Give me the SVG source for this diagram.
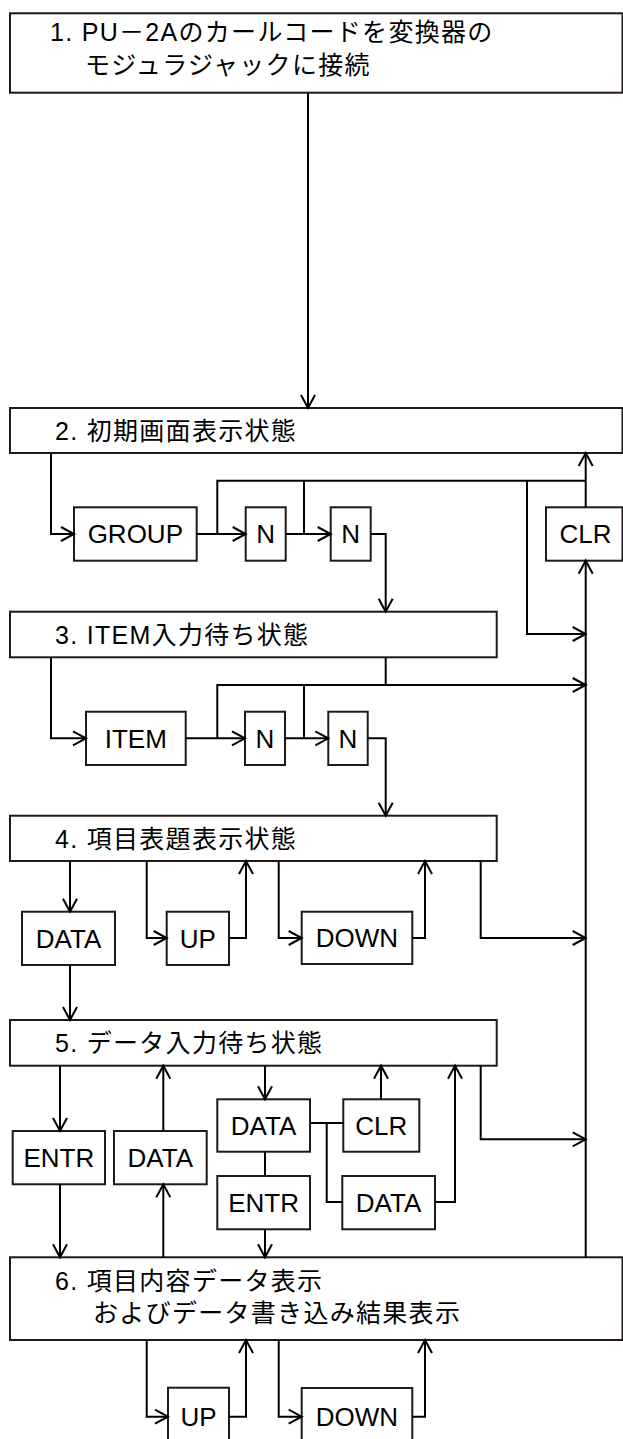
<svg xmlns="http://www.w3.org/2000/svg" width="623" height="1439" viewBox="0 0 623 1439">
<style>
.box{fill:#fff;stroke:#231815;stroke-width:2}
.conn{fill:none;stroke:#000;stroke-width:2}
.lbl{font-family:"Liberation Sans","Noto Sans CJK JP",sans-serif;font-size:26px;text-anchor:middle;fill:#000}
.st{font-family:"Liberation Sans","Noto Sans CJK JP",sans-serif;font-size:25px;letter-spacing:1.3px;fill:#000}
</style>
<defs>
<marker id="ah" markerUnits="userSpaceOnUse" markerWidth="20" markerHeight="20" viewBox="-15 -10 20 20" refX="0" refY="0" orient="auto" overflow="visible">
<path d="M-13,-7 L0,0 L-13,7" fill="none" stroke="#000" stroke-width="2"/>
</marker>
</defs>
<rect width="623" height="1439" fill="#fff"/>

<g id="state1"><rect class="box" x="10" y="13.3" width="612.5" height="79.4"/>
<text class="st" x="50" y="41">1. PU－2Aのカールコードを変換器の</text>
<text class="st" x="85" y="74">モジュラジャックに接続</text></g>

<g id="state2"><rect class="box" x="10" y="408" width="612.5" height="45"/>
<text class="st" x="55" y="440">2. 初期画面表示状態</text></g>

<g id="group"><rect class="box" x="74" y="507.3" width="122.7" height="53.4"/><text class="lbl" x="135.3" y="543.3">GROUP</text></g>
<g id="n1a"><rect class="box" x="245.7" y="507.3" width="40" height="53.4"/><text class="lbl" x="265.7" y="543.3">N</text></g>
<g id="n2a"><rect class="box" x="330.7" y="507.3" width="40" height="53.4"/><text class="lbl" x="350.7" y="543.3">N</text></g>
<g id="clr1"><rect class="box" x="546" y="507.3" width="76.5" height="53.4"/><text class="lbl" x="585.5" y="543.3">CLR</text></g>

<g id="state3"><rect class="box" x="10" y="611.7" width="486.7" height="45.6"/>
<text class="st" x="55" y="644">3. ITEM入力待ち状態</text></g>

<g id="item"><rect class="box" x="86" y="711.7" width="99.7" height="53.3"/><text class="lbl" x="135.8" y="747.6">ITEM</text></g>
<g id="n1b"><rect class="box" x="245" y="711.7" width="40" height="53.3"/><text class="lbl" x="265" y="747.6">N</text></g>
<g id="n2b"><rect class="box" x="328.3" y="711.7" width="39.4" height="53.3"/><text class="lbl" x="348" y="747.6">N</text></g>

<g id="state4"><rect class="box" x="10" y="815.7" width="486.7" height="45.3"/>
<text class="st" x="55" y="848">4. 項目表題表示状態</text></g>

<g id="data1"><rect class="box" x="22" y="911.7" width="93" height="53.3"/><text class="lbl" x="68.5" y="947.6">DATA</text></g>
<g id="up1"><rect class="box" x="166.7" y="911.7" width="62.3" height="53.3"/><text class="lbl" x="197.8" y="947.6">UP</text></g>
<g id="down1"><rect class="box" x="301.7" y="911.7" width="110.6" height="52.3"/><text class="lbl" x="357" y="947.2">DOWN</text></g>

<g id="state5"><rect class="box" x="10" y="1020" width="486.7" height="45.7"/>
<text class="st" x="55" y="1052">5. データ入力待ち状態</text></g>

<g id="entr1"><rect class="box" x="12.7" y="1131" width="92.3" height="53.3"/><text class="lbl" x="58.8" y="1167">ENTR</text></g>
<g id="data2"><rect class="box" x="114" y="1131" width="92.7" height="53.3"/><text class="lbl" x="160.3" y="1167">DATA</text></g>
<g id="data3"><rect class="box" x="217.3" y="1099.3" width="92.7" height="52.4"/><text class="lbl" x="263.6" y="1134.8">DATA</text></g>
<g id="clr2"><rect class="box" x="343.3" y="1099.3" width="76" height="52.4"/><text class="lbl" x="381.3" y="1134.8">CLR</text></g>
<g id="entr2"><rect class="box" x="217.3" y="1176" width="92.7" height="53.3"/><text class="lbl" x="263.6" y="1212">ENTR</text></g>
<g id="data4"><rect class="box" x="342.3" y="1176" width="92.7" height="53.3"/><text class="lbl" x="388.6" y="1212">DATA</text></g>

<g id="state6"><rect class="box" x="10" y="1257.3" width="612.5" height="82.7"/>
<text class="st" x="55" y="1290">6. 項目内容データ表示</text>
<text class="st" x="93" y="1322">およびデータ書き込み結果表示</text></g>

<g id="up2"><rect class="box" x="168" y="1387.7" width="61" height="60"/><text class="lbl" x="198.5" y="1426">UP</text></g>
<g id="down2"><rect class="box" x="301.7" y="1388" width="110.6" height="60"/><text class="lbl" x="357" y="1426">DOWN</text></g>

<g id="connectors">
<path class="conn" d="M308,92.7 V408" marker-end="url(#ah)"/>
<path class="conn" d="M51,453 V534 H74" marker-end="url(#ah)"/>
<path class="conn" d="M196.7,534 H245.7" marker-end="url(#ah)"/>
<path class="conn" d="M285.7,534 H330.7" marker-end="url(#ah)"/>
<path class="conn" d="M370.7,534 H385.7 V611.7" marker-end="url(#ah)"/>
<path class="conn" d="M217.3,534 V480.7 H585.7"/>
<path class="conn" d="M304,534 V480.7"/>
<path class="conn" d="M585.7,507.3 V453" marker-end="url(#ah)"/>
<path class="conn" d="M527,480.7 V634 H585.7" marker-end="url(#ah)"/>
<path class="conn" d="M585.7,1257.3 V560.7" marker-end="url(#ah)"/>

<path class="conn" d="M51,657.3 V738.3 H86" marker-end="url(#ah)"/>
<path class="conn" d="M185.7,738.3 H245" marker-end="url(#ah)"/>
<path class="conn" d="M285,738.3 H328.3" marker-end="url(#ah)"/>
<path class="conn" d="M367.7,738.3 H385.7 V815.7" marker-end="url(#ah)"/>
<path class="conn" d="M217.3,738.3 V685 H585.7" marker-end="url(#ah)"/>
<path class="conn" d="M304,738.3 V685"/>
<path class="conn" d="M385.7,657.3 V684"/>

<path class="conn" d="M70,861 V911.7" marker-end="url(#ah)"/>
<path class="conn" d="M70,965 V1020" marker-end="url(#ah)"/>
<path class="conn" d="M146.7,861 V938 H166.7" marker-end="url(#ah)"/>
<path class="conn" d="M229,938 H246 V861" marker-end="url(#ah)"/>
<path class="conn" d="M278.7,861 V938 H301.7" marker-end="url(#ah)"/>
<path class="conn" d="M412.3,938 H425 V861" marker-end="url(#ah)"/>
<path class="conn" d="M480.7,861 V938 H585.7" marker-end="url(#ah)"/>

<path class="conn" d="M60,1065.7 V1131" marker-end="url(#ah)"/>
<path class="conn" d="M60,1184.3 V1257.3" marker-end="url(#ah)"/>
<path class="conn" d="M163.3,1257.3 V1184.3" marker-end="url(#ah)"/>
<path class="conn" d="M163.3,1131 V1065.7" marker-end="url(#ah)"/>
<path class="conn" d="M265,1065.7 V1099.3" marker-end="url(#ah)"/>
<path class="conn" d="M265,1151.7 V1176"/>
<path class="conn" d="M265,1229.3 V1257.3" marker-end="url(#ah)"/>
<path class="conn" d="M310,1123 H343.3"/>
<path class="conn" d="M326.7,1123 V1202 H342.3"/>
<path class="conn" d="M381,1099.3 V1065.7" marker-end="url(#ah)"/>
<path class="conn" d="M435,1202 H455 V1065.7" marker-end="url(#ah)"/>
<path class="conn" d="M480.7,1065.7 V1139.3 H585.7" marker-end="url(#ah)"/>

<path class="conn" d="M146.7,1340 V1416.7 H168" marker-end="url(#ah)"/>
<path class="conn" d="M229,1416.7 H246 V1340" marker-end="url(#ah)"/>
<path class="conn" d="M278.7,1340 V1416.7 H301.7" marker-end="url(#ah)"/>
<path class="conn" d="M412.3,1416.7 H425 V1340" marker-end="url(#ah)"/>
</g>
</svg>
